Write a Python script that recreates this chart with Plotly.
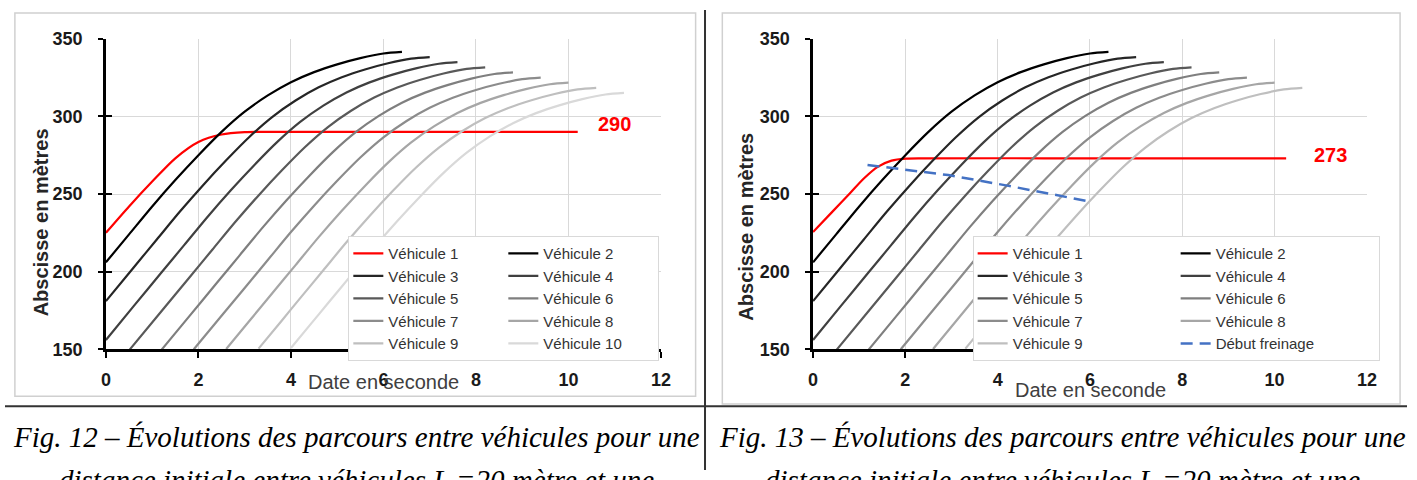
import plotly.graph_objects as go

W, H = 1417, 480

# ---------------- data ----------------
t_v1_fig12 = [0, 0.5, 1.0, 1.5, 2.0, 2.5, 3.0, 3.5, 5.0, 10.2]
x_v1_fig12 = [225, 242, 258, 273, 283.5, 288.3, 289.8, 290, 290, 290]

t_v1_fig13 = [0, 0.4, 0.8, 1.1, 1.4, 1.7, 2.0, 2.4, 5.0, 10.25]
x_v1_fig13 = [225.5, 238, 250.5, 260, 267.5, 271.5, 272.8, 273, 273, 273]

t_v2 = [0, 0.5, 1.0, 1.5, 2.0, 2.5, 3.0, 3.5, 4.0, 4.5, 5.0, 5.5, 6.0, 6.4]
x_v2 = [206, 224, 242, 259, 275, 290, 303, 313.5, 322, 328.5, 333.5, 337.5, 340.5, 341.5]

t_v3 = [0, 0.6, 1.1, 1.6, 2.1, 2.6, 3.1, 3.6, 4.1, 4.6, 5.1, 5.6, 6.1, 6.6, 7.0]
x_v3 = [181, 202.7, 220.7, 238.7, 255.7, 271.7, 286.7, 299.7, 310.2, 318.7, 325.2, 330.2, 334.2, 337.2, 338.2]

t_v4 = [0, 0.6, 1.2, 1.7, 2.2, 2.7, 3.2, 3.7, 4.2, 4.7, 5.2, 5.7, 6.2, 6.7, 7.2, 7.6]
x_v4 = [156, 177.8, 199.4, 217.4, 235.4, 252.4, 268.4, 283.4, 296.4, 306.9, 315.4, 321.9, 326.9, 330.9, 333.9, 334.9]

t_v5 = [0.5, 1.2, 1.8, 2.3, 2.8, 3.3, 3.8, 4.3, 4.8, 5.3, 5.8, 6.3, 6.8, 7.3, 7.8, 8.2]
x_v5 = [149.3, 174.5, 196.1, 214.1, 232.1, 249.1, 265.1, 280.1, 293.1, 303.6, 312.1, 318.6, 323.6, 327.6, 330.6, 331.6]

t_v6 = [1.2, 1.8, 2.4, 2.9, 3.4, 3.9, 4.4, 4.9, 5.4, 5.9, 6.4, 6.9, 7.4, 7.9, 8.4, 8.8]
x_v6 = [149.6, 171.2, 192.8, 210.8, 228.8, 245.8, 261.8, 276.8, 289.8, 300.3, 308.8, 315.3, 320.3, 324.3, 327.3, 328.3]

t_v7 = [1.9, 2.5, 3.0, 3.5, 4.0, 4.5, 5.0, 5.5, 6.0, 6.5, 7.0, 7.5, 8.0, 8.5, 9.0, 9.4]
x_v7 = [150, 171.6, 189.5, 207.5, 225.5, 242.5, 258.5, 273.5, 286.5, 297, 305.5, 312, 317, 321, 324, 325]

t_v8 = [2.6, 3.1, 3.6, 4.1, 4.6, 5.1, 5.6, 6.1, 6.6, 7.1, 7.6, 8.1, 8.6, 9.1, 9.6, 10.0]
x_v8 = [150.2, 168.2, 186.2, 204.2, 222.2, 239.2, 255.2, 270.2, 283.2, 293.7, 302.2, 308.7, 313.7, 317.7, 320.7, 321.7]

t_v9 = [3.3, 3.8, 4.2, 4.7, 5.2, 5.7, 6.2, 6.7, 7.2, 7.7, 8.2, 8.7, 9.2, 9.7, 10.2, 10.6]
x_v9 = [150.4, 168.4, 182.9, 200.9, 218.9, 235.9, 251.9, 266.9, 279.9, 290.4, 298.9, 305.4, 310.4, 314.4, 317.4, 318.4]

t_v10 = [4.0, 4.4, 4.8, 5.3, 5.8, 6.3, 6.8, 7.3, 7.8, 8.3, 8.8, 9.3, 9.8, 10.3, 10.8, 11.2]
x_v10 = [150.8, 165.2, 179.6, 197.6, 215.6, 232.6, 248.6, 263.6, 276.6, 287.1, 295.6, 302.1, 307.1, 311.1, 314.1, 315.1]

t_brake = [1.18, 2.93, 4.21, 6.0]
x_brake = [268.7, 262.2, 255.4, 245.1]

names = ["Véhicule %d" % i for i in range(1, 11)]
follower_t = [t_v2, t_v3, t_v4, t_v5, t_v6, t_v7, t_v8, t_v9, t_v10]
follower_x = [x_v2, x_v3, x_v4, x_v5, x_v6, x_v7, x_v8, x_v9, x_v10]
grays = ["#000000", "#262626", "#404040", "#595959", "#7f7f7f",
         "#8c8c8c", "#a6a6a6", "#bfbfbf", "#d9d9d9"]

label_fig12 = "290"
label_fig13 = "273"
x_ticks = [0, 2, 4, 6, 8, 10, 12]
y_ticks = [150, 200, 250, 300, 350]

fig = go.Figure()

def add_panel(xa, ya, leg, t_red, x_red, n_follow, with_brake):
    grpA, grpB = leg + "a", leg + "b"
    fig.add_trace(go.Scatter(x=t_red, y=x_red, name=names[0], mode="lines",
                             line=dict(color="#ff0000", width=2.2, shape="spline", smoothing=0.8),
                             xaxis=xa, yaxis=ya, legend=leg, legendgroup=grpA))
    for i in range(n_follow):
        grp = grpB if i % 2 == 0 else grpA
        fig.add_trace(go.Scatter(x=follower_t[i], y=follower_x[i], name=names[i + 1], mode="lines",
                                 line=dict(color=grays[i], width=2.2, shape="spline", smoothing=0.8),
                                 xaxis=xa, yaxis=ya, legend=leg, legendgroup=grp))
    if with_brake:
        fig.add_trace(go.Scatter(x=t_brake, y=x_brake, name="Début freinage", mode="lines",
                                 line=dict(color="#4472c4", width=2.5, dash="12px,7px"),
                                 xaxis=xa, yaxis=ya, legend=leg, legendgroup=grpB))

add_panel("x", "y", "legend", t_v1_fig12, x_v1_fig12, 9, False)
add_panel("x2", "y2", "legend2", t_v1_fig13, x_v1_fig13, 8, True)

# empty traces to carry the inner half of the crossing y ticks
fig.add_trace(go.Scatter(x=[], y=[], xaxis="x", yaxis="y3", showlegend=False))
fig.add_trace(go.Scatter(x=[], y=[], xaxis="x2", yaxis="y4", showlegend=False))

def px_x(p):
    return p / W

def px_y(p):
    return 1 - p / H

yd = [px_y(354), px_y(30)]
tickfont = dict(family="Liberation Sans", size=18, color="#1a1a1a", weight="bold")
axis_common = dict(showgrid=True, gridcolor="#d9d9d9", gridwidth=1, zeroline=False,
                   showline=True, linecolor="#000000", linewidth=2.5,
                   ticks="outside", tickcolor="#000000", tickwidth=2, tickfont=tickfont)
inner_y = dict(domain=yd, range=[150, 350], tickvals=y_ticks, showgrid=False, zeroline=False,
               showline=False, ticks="inside", ticklen=6, tickwidth=2, tickcolor="#000000",
               showticklabels=False)

legend_font = dict(family="Liberation Sans", size=15, color="#333333")

fig.update_layout(
    width=W, height=H, margin=dict(l=0, r=0, t=0, b=0),
    paper_bgcolor="white", plot_bgcolor="white",
    xaxis=dict(domain=[px_x(102), px_x(663)], range=[0, 12], tickvals=x_ticks, anchor="y",
               ticklen=6, ticklabelstandoff=6, **axis_common),
    xaxis2=dict(domain=[px_x(816.7), px_x(1376.5)], range=[0, 12], tickvals=x_ticks, anchor="y2",
                ticklen=6, ticklabelstandoff=6, **axis_common),
    yaxis=dict(domain=yd, range=[150, 350], tickvals=y_ticks, anchor="x",
               ticklen=5, ticklabelstandoff=12, **axis_common),
    yaxis2=dict(domain=yd, range=[150, 350], tickvals=y_ticks, anchor="x2",
                ticklen=5, ticklabelstandoff=12, **axis_common),
    yaxis3=dict(anchor="x", overlaying="y", **inner_y),
    yaxis4=dict(anchor="x2", overlaying="y2", **inner_y),
    legend=dict(orientation="h", traceorder="grouped", x=px_x(347), y=px_y(236),
                xanchor="left", yanchor="top", bgcolor="white", bordercolor="#d9d9d9",
                borderwidth=1, entrywidth=110, font=legend_font),
    legend2=dict(orientation="h", traceorder="grouped", x=px_x(978), y=px_y(236),
                 xanchor="left", yanchor="top", bgcolor="white", bordercolor="#d9d9d9",
                 borderwidth=1, entrywidth=158, font=legend_font),
)

cap_font = dict(family="Liberation Serif", size=29, color="#000000")
annots = [
    dict(text=label_fig12, x=11.0, y=295, xref="x", yref="y", showarrow=False,
         xanchor="center", yanchor="middle",
         font=dict(family="Liberation Sans", size=20, color="#ff0000", weight="bold")),
    dict(text=label_fig13, x=11.22, y=275, xref="x2", yref="y2", showarrow=False,
         xanchor="center", yanchor="middle",
         font=dict(family="Liberation Sans", size=20, color="#ff0000", weight="bold")),
    dict(text="Abscisse en mètres", x=px_x(36), y=px_y(222), xref="paper", yref="paper",
         showarrow=False, textangle=-90, xanchor="center", yanchor="middle",
         font=dict(family="Liberation Sans", size=20, color="#262626", weight="bold")),
    dict(text="Abscisse en mètres", x=px_x(749), y=px_y(226), xref="paper", yref="paper",
         showarrow=False, textangle=-90, xanchor="center", yanchor="middle",
         font=dict(family="Liberation Sans", size=20, color="#262626", weight="bold")),
    dict(text="Date en seconde", x=px_x(383), y=px_y(388), xref="paper", yref="paper",
         showarrow=False, xanchor="center", yanchor="middle",
         font=dict(family="Liberation Sans", size=20, color="#404040")),
    dict(text="Date en seconde", x=px_x(1097), y=px_y(396), xref="paper", yref="paper",
         showarrow=False, xanchor="center", yanchor="middle",
         font=dict(family="Liberation Sans", size=20, color="#404040")),
    dict(text="<i>Fig. 12 – Évolutions des parcours entre véhicules pour une</i>",
         x=px_x(355), y=px_y(446), xref="paper", yref="paper", showarrow=False,
         xanchor="center", yanchor="middle", font=cap_font),
    dict(text="<i>Fig. 13 – Évolutions des parcours entre véhicules pour une</i>",
         x=px_x(1069), y=px_y(446), xref="paper", yref="paper", showarrow=False,
         xanchor="center", yanchor="middle", font=cap_font),
    dict(text="<i>distance initiale entre véhicules L =20 mètre et une</i>",
         x=px_x(355), y=px_y(490), xref="paper", yref="paper", showarrow=False,
         xanchor="center", yanchor="middle", font=cap_font),
    dict(text="<i>distance initiale entre véhicules L =20 mètre et une</i>",
         x=px_x(1069), y=px_y(490), xref="paper", yref="paper", showarrow=False,
         xanchor="center", yanchor="middle", font=cap_font),
]
fig.update_layout(annotations=annots)

shapes = [
    dict(type="rect", xref="paper", yref="paper", x0=px_x(10), x1=px_x(698), y0=px_y(403), y1=px_y(3),
         line=dict(color="#d0d0d0", width=1.5), layer="below"),
    dict(type="rect", xref="paper", yref="paper", x0=px_x(725), x1=px_x(1410), y0=px_y(411), y1=px_y(3),
         line=dict(color="#d0d0d0", width=1.5), layer="below"),
    dict(type="line", xref="paper", yref="paper", x0=px_x(707.5), x1=px_x(707.5), y0=0, y1=1,
         line=dict(color="#333333", width=2)),
    dict(type="line", xref="paper", yref="paper", x0=0, x1=1, y0=px_y(413.5), y1=px_y(413.5),
         line=dict(color="#333333", width=2)),
]
fig.update_layout(shapes=shapes)

fig.write_html("out.html")
